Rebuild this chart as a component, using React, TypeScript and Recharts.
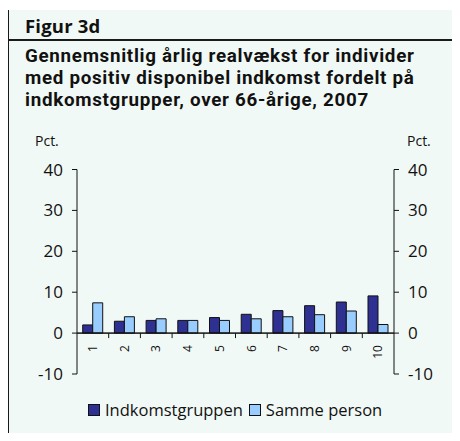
import { BarChart, Bar, XAxis, YAxis, ReferenceLine } from "recharts";

const groups = ["1", "2", "3", "4", "5", "6", "7", "8", "9", "10"];
const indkomstgruppen = [2.0, 2.9, 3.1, 3.1, 3.8, 4.6, 5.5, 6.7, 7.6, 9.1];
const sammePerson = [7.4, 4.0, 3.5, 3.1, 3.1, 3.5, 4.0, 4.5, 5.4, 2.1];
const yTicks = [-10, 0, 10, 20, 30, 40];
const seriesNames = ["Indkomstgruppen", "Samme person"];
const seriesColors = ["#2e3192", "#99ccff"];
const titleLines = [
  "Gennemsnitlig årlig realvækst for individer",
  "med positiv disponibel indkomst fordelt på",
  "indkomstgrupper, over 66-årige, 2007",
];

const data = groups.map((g, i) => ({
  group: g,
  indkomst: indkomstgruppen[i],
  samme: sammePerson[i],
}));

const W = 460;
const H = 441;
const plotTop = 169.5;
const plotBottom = 374;
const plotLeft = 77;
const plotRight = 394;
const xAxisH = 20;
const yMin = yTicks[0];
const yMax = yTicks[yTicks.length - 1];
const font = "'Open Sans', sans-serif";
const titleFont = "Roboto, sans-serif";

const zeroOffset = ((plotBottom - plotTop) * (0 - yMin)) / (yMax - yMin);
const band = (plotRight - plotLeft) / groups.length;

// x labels sit under the zero line, not at the bottom of the plot
function GroupTick(props: any) {
  const { x, y, payload, index } = props;
  const zy = y - zeroOffset;
  return (
    <g>
      {index < groups.length - 1 && (
        <line x1={x + band / 2} x2={x + band / 2} y1={zy} y2={zy + 5} stroke="#111" />
      )}
      <text
        transform={`translate(${x},${zy + 12}) rotate(-90)`}
        textAnchor="end"
        dy="0.35em"
        fontSize={12}
        fontFamily={font}
        fill="#111"
      >
        {payload.value}
      </text>
    </g>
  );
}

const tickStyle = { fontSize: 17, fill: "#111", fontFamily: font };

export default function App() {
  return (
    <div style={{ position: "relative", width: W, height: H, margin: -8, background: "#fff", overflow: "hidden", fontFamily: font, color: "#111" }}>
      <div style={{ position: "absolute", left: 7, top: 10, width: W - 7, height: H - 10, background: "#f1f9f6", borderLeft: "2px solid #1a1a1a", boxSizing: "border-box" }} />
      <div style={{ position: "absolute", left: 7, top: 39, width: W - 7, height: 1.5, background: "#1a1a1a" }} />
      <div style={{ position: "absolute", left: 25, top: 14.5, fontSize: 18.5, fontWeight: 700, lineHeight: "22px", letterSpacing: 0.2 }}>Figur 3d</div>
      <div style={{ position: "absolute", left: 25, top: 45, width: 440, fontFamily: titleFont, fontSize: 18.8, fontWeight: 700, lineHeight: "22.2px", letterSpacing: 0.7 }}>
        {titleLines.map((l) => (
          <div key={l} style={{ whiteSpace: "nowrap" }}>{l}</div>
        ))}
      </div>
      <div style={{ position: "absolute", left: 35, top: 131, fontSize: 14 }}>Pct.</div>
      <div style={{ position: "absolute", left: 407, top: 131, fontSize: 14 }}>Pct.</div>
      <div style={{ position: "absolute", left: 0, top: 0 }}>
        <BarChart
          width={W}
          height={H}
          data={data}
          margin={{ top: plotTop, right: 0, bottom: H - plotBottom - xAxisH, left: 0 }}
          barGap={0}
          barCategoryGap="18%"
        >
          <XAxis
            dataKey="group"
            height={xAxisH}
            axisLine={false}
            tickLine={false}
            tickSize={0}
            tickMargin={0}
            interval={0}
            tick={<GroupTick />}
          />
          <YAxis
            yAxisId="left"
            type="number"
            width={plotLeft}
            domain={[yMin, yMax]}
            allowDataOverflow
            ticks={yTicks}
            interval={0}
            tickSize={5}
            tickMargin={9}
            tick={tickStyle}
            axisLine={{ stroke: "#111" }}
            tickLine={{ stroke: "#111" }}
          />
          <YAxis
            yAxisId="right"
            type="number"
            orientation="right"
            width={W - plotRight}
            domain={[yMin, yMax]}
            allowDataOverflow
            ticks={yTicks}
            interval={0}
            tickSize={5}
            tickMargin={9}
            tick={tickStyle}
            axisLine={{ stroke: "#111" }}
            tickLine={{ stroke: "#111" }}
          />
          <ReferenceLine yAxisId="left" y={0} stroke="#111" />
          <ReferenceLine yAxisId="right" y={0} stroke="#111" />
          <Bar yAxisId="left" dataKey="indkomst" name={seriesNames[0]} fill={seriesColors[0]} stroke="#111" strokeWidth={1} isAnimationActive={false} />
          <Bar yAxisId="left" dataKey="samme" name={seriesNames[1]} fill={seriesColors[1]} stroke="#111" strokeWidth={1} isAnimationActive={false} />
        </BarChart>
      </div>
      <div style={{ position: "absolute", left: 88, top: 399, display: "flex", alignItems: "center", fontSize: 16.5, lineHeight: "22px" }}>
        {seriesNames.map((n, i) => (
          <span key={n} style={{ display: "flex", alignItems: "center", marginRight: 6 }}>
            <span style={{ width: 12, height: 12, background: seriesColors[i], border: "1px solid #111", boxSizing: "border-box", marginRight: 5 }} />
            {n}
          </span>
        ))}
      </div>
    </div>
  );
}
